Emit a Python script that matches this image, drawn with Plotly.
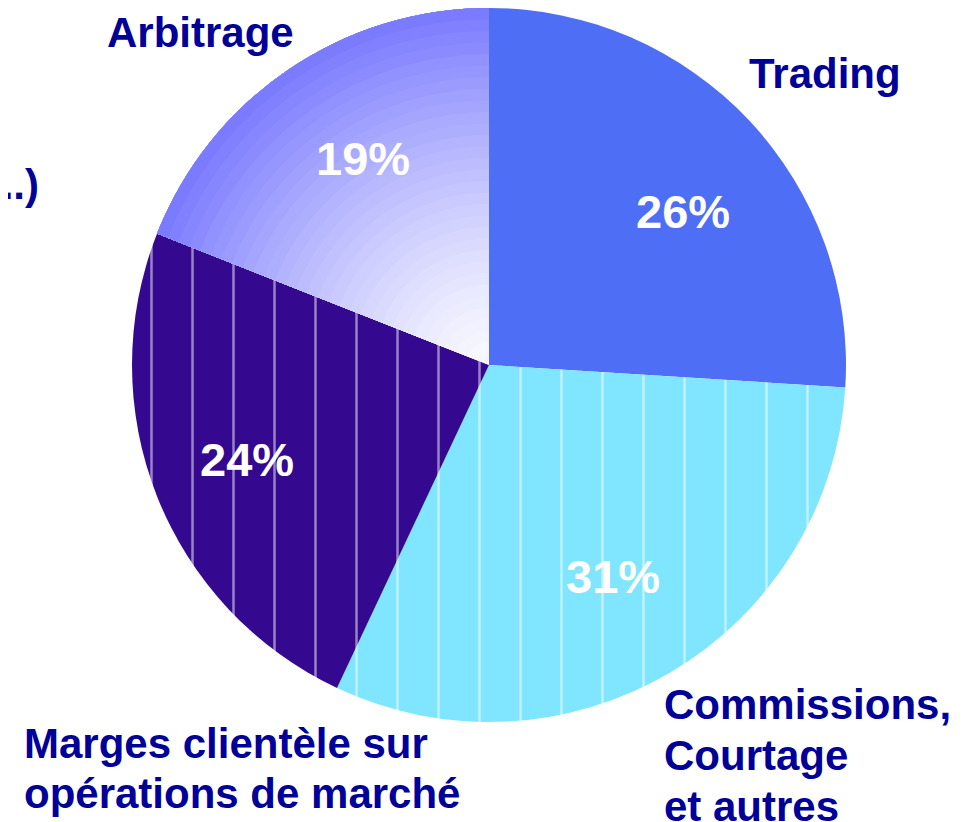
import plotly.graph_objects as go

# ---- data ----
categories = ["Trading", "Commissions, Courtage et autres",
              "Marges clientèle sur opérations de marché", "Arbitrage"]
values = [26, 31, 24, 19]
outside_label_lines = [["Trading"],
                       ["Commissions,", "Courtage", "et autres"],
                       ["Marges clientèle sur", "opérations de marché"],
                       ["Arbitrage"]]
cut_label = "...)"

# ---- styles / geometry (page pixels; the html body adds an 8px margin) ----
OFF = 8
W, H = 965 - OFF, 822 - OFF
colors = ["#4D6EF5", "#80E5FF", "#34098F", "#F6F6FF"]
patterns = ["", "|", "|", ""]
pat_fg = ["#6F8BFA", "#FFFFFF", "#FFFFFF", "#FFFFFF"]
navy = "#000099"
font_family = "Liberation Sans, Arial, sans-serif"

cx, cy, R = 489 - OFF, 365 - OFF, 357
dom = dict(x=[(cx - R) / W, (cx + R) / W],
           y=[1 - (cy + R) / H, 1 - (cy - R) / H])

fig = go.Figure(go.Pie(
    labels=categories, values=values, sort=False,
    direction="clockwise", rotation=0, textinfo="none",
    hoverinfo="label+percent",
    marker=dict(colors=colors, line=dict(width=0),
                pattern=dict(shape=patterns, fgcolor=pat_fg, size=41,
                             solidity=0.06, fillmode="overlay")),
    domain=dom, showlegend=False,
))

# shading rings for the Arbitrage slice (light centre -> darker rim)
c_in, c_out = (248, 248, 255), (118, 118, 255)
n_rings = 30
for k in range(1, n_rings + 1):
    h = k / (n_rings + 1)
    t = h ** 1.3
    col = "rgb({},{},{})".format(*[round(a + (b - a) * t) for a, b in zip(c_in, c_out)])
    fig.add_trace(go.Pie(
        labels=categories, values=values, sort=False,
        direction="clockwise", rotation=0, textinfo="none",
        hoverinfo="skip", hole=h,
        marker=dict(colors=["rgba(0,0,0,0)"] * 3 + [col], line=dict(width=0)),
        domain=dom, showlegend=False,
    ))

annotations = []
total = sum(values)
pct_pos = [(683, 212), (613, 576), (247, 459), (363, 158)]  # page px
for v, (px, py) in zip(values, pct_pos):
    annotations.append(dict(
        x=(px - OFF) / W, y=1 - (py - OFF) / H, xref="paper", yref="paper",
        text=f"<b>{round(v / total * 100)}%</b>", showarrow=False,
        font=dict(family=font_family, size=47, color="white"),
        xanchor="center", yanchor="middle"))

label_pos = [  # (x px, first-line y px, line step, xanchor)
    (825, 73, 0, "center"),
    (662, 704, 51, "left"),
    (22, 743, 50, "left"),
    (200, 33, 0, "center"),
]
for lines, (lx, ly, step, xa) in zip(outside_label_lines, label_pos):
    for i, txt in enumerate(lines):
        annotations.append(dict(
            x=(lx - OFF) / W, y=1 - (ly - OFF + i * step) / H,
            xref="paper", yref="paper",
            text=f"<b>{txt}</b>", showarrow=False,
            font=dict(family=font_family, size=42, color=navy),
            xanchor=xa, yanchor="middle"))

annotations.append(dict(
    x=(41 - OFF) / W, y=1 - (185 - OFF) / H, xref="paper", yref="paper",
    text=f"<b>{cut_label}</b>", showarrow=False,
    font=dict(family=font_family, size=42, color=navy),
    xanchor="right", yanchor="middle"))

fig.update_layout(
    width=W, height=H,
    margin=dict(l=0, r=0, t=0, b=0),
    paper_bgcolor="white", plot_bgcolor="white",
    annotations=annotations,
)

fig.write_html("out.html")
